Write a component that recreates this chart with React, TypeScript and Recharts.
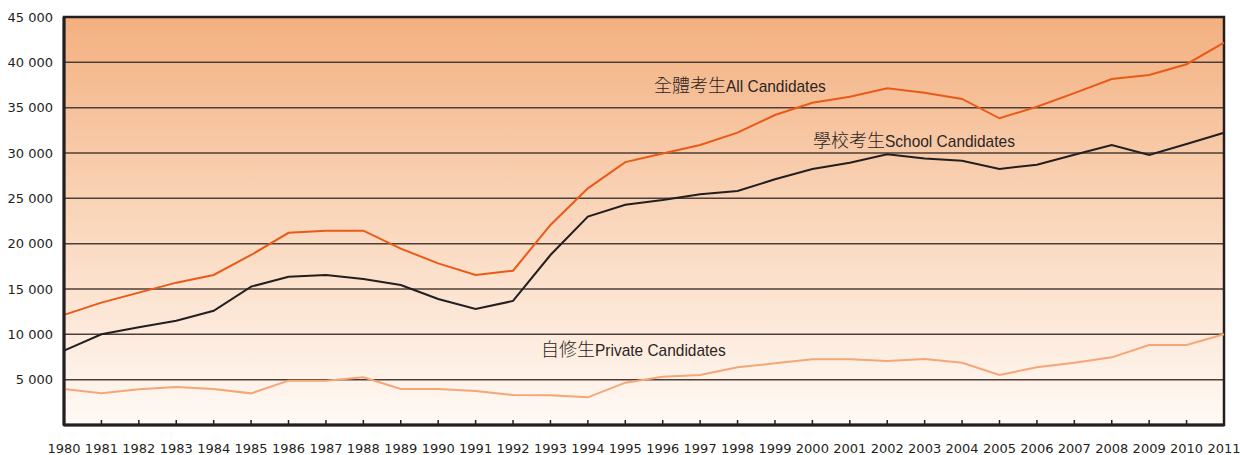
import { LineChart, Line, XAxis, YAxis, CartesianGrid, ReferenceArea } from 'recharts'

const years = [
  1980, 1981, 1982, 1983, 1984, 1985, 1986, 1987, 1988, 1989, 1990, 1991, 1992, 1993, 1994, 1995,
  1996, 1997, 1998, 1999, 2000, 2001, 2002, 2003, 2004, 2005, 2006, 2007, 2008, 2009, 2010, 2011,
]

const allCandidates = [
  12150, 13500, 14600, 15700, 16550, 18750, 21200, 21430, 21430, 19450, 17830, 16550, 17020, 22060, 26100, 29000,
  29950, 30880, 32240, 34190, 35550, 36210, 37140, 36650, 35960, 33830, 35100, 36600, 38160, 38600, 39790, 42170,
]

const schoolCandidates = [
  8200, 10000, 10780, 11500, 12600, 15260, 16360, 16550, 16100, 15440, 13900, 12800, 13680, 18750, 22980, 24300,
  24820, 25450, 25810, 27100, 28240, 28930, 29860, 29400, 29150, 28240, 28710, 29800, 30880, 29780, 31000, 32240,
]

const privateCandidates = [
  3970, 3490, 3940, 4190, 3970, 3490, 4890, 4890, 5260, 3970, 3970, 3750, 3310, 3270, 3050, 4670,
  5330, 5520, 6360, 6800, 7240, 7240, 7060, 7280, 6870, 5520, 6360, 6870, 7460, 8820, 8820, 10000,
]

const yTicks = [5000, 10000, 15000, 20000, 25000, 30000, 35000, 40000, 45000]

const data = years.map((year, i) => ({
  year,
  all: allCandidates[i],
  school: schoolCandidates[i],
  private: privateCandidates[i],
}))

const fmt = (v: number) => String(v).replace(/\B(?=(\d{3})+(?!\d))/g, ' ')

const tickFont = { fontFamily: 'DejaVu Sans, Verdana, sans-serif', fontSize: 13, fill: '#231f20' }
const cjk = "'Noto Sans CJK TC', 'Noto Sans CJK SC', sans-serif"
const narrow = "'Liberation Sans Narrow', 'Liberation Sans', Arial, sans-serif"

function SeriesLabel({ left, top, zh, en }: { left: number; top: number; zh: string; en: string }) {
  return (
    <div style={{ position: 'absolute', left, top, lineHeight: 1, whiteSpace: 'nowrap', color: '#2b2523' }}>
      <span style={{ fontFamily: cjk, fontSize: 18, fontWeight: 300 }}>{zh}</span>
      <span
        style={{
          display: 'inline-block',
          fontFamily: narrow,
          fontSize: 17,
          transform: 'scaleX(0.91)',
          transformOrigin: 'left center',
        }}
      >
        {en}
      </span>
    </div>
  )
}

export default function App() {
  return (
    <div style={{ position: 'absolute', left: 0, top: 0, width: 1240, height: 455, background: '#fff' }}>
      <LineChart width={1240} height={455} data={data} margin={{ top: 17, right: 16, bottom: 0, left: 0 }}>
        <defs>
          <linearGradient id="bg" x1="0" y1="0" x2="0" y2="1">
            <stop offset="0%" stopColor="#f3b080" />
            <stop offset="45%" stopColor="#f9d3b6" />
            <stop offset="100%" stopColor="#fffaf6" />
          </linearGradient>
        </defs>
        <CartesianGrid vertical={false} fill="url(#bg)" fillOpacity={1} stroke="#4d3f37" strokeWidth={1.5} />
        <XAxis
          dataKey="year"
          type="number"
          domain={[1980, 2011]}
          ticks={years}
          interval={0}
          height={30}
          tickSize={-5}
          tickMargin={24}
          tick={tickFont}
          tickLine={{ stroke: '#231f20', strokeWidth: 1.5 }}
          axisLine={{ stroke: '#231f20', strokeWidth: 3 }}
        />
        <YAxis
          type="number"
          domain={[0, 45000]}
          ticks={yTicks}
          width={64}
          tickLine={false}
          tickMargin={5}
          tickFormatter={fmt}
          tick={tickFont}
          axisLine={{ stroke: '#231f20', strokeWidth: 3 }}
        />
        <ReferenceArea x1={1980} x2={2011} y1={0} y2={45000} fill="none" stroke="#231f20" strokeWidth={2.5} />
        <Line dataKey="private" stroke="#f5a676" strokeWidth={2} dot={false} isAnimationActive={false} />
        <Line dataKey="school" stroke="#231f20" strokeWidth={2} dot={false} isAnimationActive={false} />
        <Line dataKey="all" stroke="#ea5a17" strokeWidth={2} dot={false} isAnimationActive={false} />
      </LineChart>
      <SeriesLabel left={654} top={75} zh="全體考生" en="All Candidates" />
      <SeriesLabel left={813} top={130} zh="學校考生" en="School Candidates" />
      <SeriesLabel left={541} top={339} zh="自修生" en="Private Candidates" />
    </div>
  )
}
